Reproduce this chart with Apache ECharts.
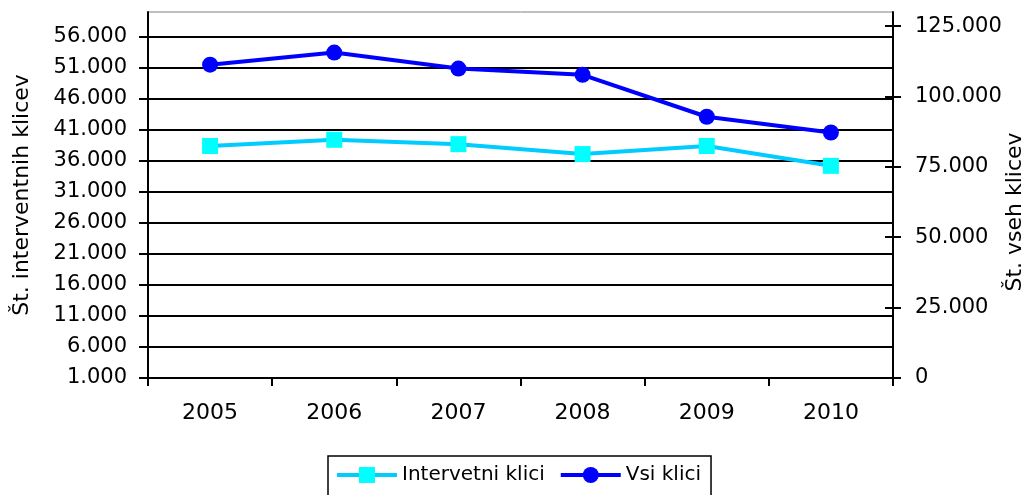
<!DOCTYPE html>
<html><head><meta charset="utf-8">
<script src="https://cdn.jsdelivr.net/npm/echarts@6/dist/echarts.min.js"></script>
<style>html,body{margin:0;padding:0;background:#fff}#c{width:1027px;height:495px}</style>
</head><body><div id="c"></div>
<script>
const categories = ['2005', '2006', '2007', '2008', '2009', '2010'];
const intervetniKlici = [38400, 39400, 38700, 37100, 38400, 35200];
const vsiKlici = [111300, 115600, 109900, 107700, 92800, 87200];
const leftTicks = [1000, 6000, 11000, 16000, 21000, 26000, 31000, 36000, 41000, 46000, 51000, 56000];
const rightTicks = [0, 25000, 50000, 75000, 100000, 125000];
const leftTitle = 'Št. interventnih klicev';
const rightTitle = 'Št. vseh klicev';

const FONT = "'DejaVu Sans', 'Liberation Sans', Arial, sans-serif";
const fmt = v => v === 0 ? '0' : (v / 1000).toFixed(3);

const chart = echarts.init(document.getElementById('c'));
chart.setOption({
  animation: false,
  textStyle: { fontFamily: FONT },
  grid: { left: 148, right: 134, top: 12, bottom: 117, outerBoundsMode: 'none', containLabel: false,
          show: true, borderColor: '#808080', borderWidth: 1 },
  graphic: [{
    type: 'text', x: 1015, y: 212, rotation: Math.PI / 2, silent: true,
    style: { text: rightTitle, fill: '#000', font: "22px 'DejaVu Sans', 'Liberation Sans', Arial, sans-serif",
             textAlign: 'center', textVerticalAlign: 'middle' }
  }],
  legend: {
    left: 328, top: 456,
    itemWidth: 60, itemHeight: 20, itemGap: 14,
    borderColor: '#000', borderWidth: 1.5,
    padding: [9, 10, 30, 7],
    lineStyle: { width: 4 },
    textStyle: { fontSize: 20, color: '#000', fontFamily: FONT },
    data: ['Intervetni klici', 'Vsi klici']
  },
  xAxis: {
    type: 'category', data: categories, boundaryGap: true,
    axisLine: { lineStyle: { color: '#000', width: 2 } },
    axisTick: { show: true, length: 8, lineStyle: { color: '#000', width: 2 } },
    axisLabel: { fontSize: 22, color: '#000', margin: 24, fontFamily: FONT },
    splitLine: { show: false }
  },
  yAxis: [
    {
      type: 'value', position: 'left', min: 1000, max: 60000, interval: 5000,
      name: leftTitle, nameLocation: 'middle', nameGap: 115,
      nameTextStyle: { fontSize: 22, color: '#000', fontFamily: FONT },
      axisLine: { show: true, lineStyle: { color: '#000', width: 2 } },
      axisTick: { show: true, length: 9, customValues: leftTicks, lineStyle: { color: '#000', width: 2 } },
      axisLabel: { fontSize: 21, color: '#000', margin: 21, customValues: leftTicks, formatter: fmt, fontFamily: FONT },
      splitLine: { show: true, lineStyle: { color: '#000', width: 2 } }
    },
    {
      type: 'value', position: 'right', min: 0, max: 130000, interval: 25000,
      axisLine: { show: true, lineStyle: { color: '#000', width: 2 } },
      axisTick: { show: true, length: 8, customValues: rightTicks, lineStyle: { color: '#000', width: 2 } },
      axisLabel: { fontSize: 21, color: '#000', margin: 22, customValues: rightTicks, formatter: fmt, fontFamily: FONT },
      splitLine: { show: false }
    },
    {
      type: 'value', position: 'right', min: 0, max: 130000, interval: 25000,
      axisLine: { show: false },
      axisTick: { show: true, inside: true, length: 8, customValues: rightTicks, lineStyle: { color: '#000', width: 2 } },
      axisLabel: { show: false },
      splitLine: { show: false }
    }
  ],
  series: [
    {
      name: 'Intervetni klici', type: 'line', yAxisIndex: 0, data: intervetniKlici,
      symbol: 'rect', symbolSize: 16,
      itemStyle: { color: '#00FFFF' },
      lineStyle: { color: '#00CCFF', width: 4 }
    },
    {
      name: 'Vsi klici', type: 'line', yAxisIndex: 1, data: vsiKlici,
      symbol: 'circle', symbolSize: 16,
      itemStyle: { color: '#0000FF' },
      lineStyle: { color: '#0000FF', width: 4 }
    }
  ]
});
</script></body></html>
